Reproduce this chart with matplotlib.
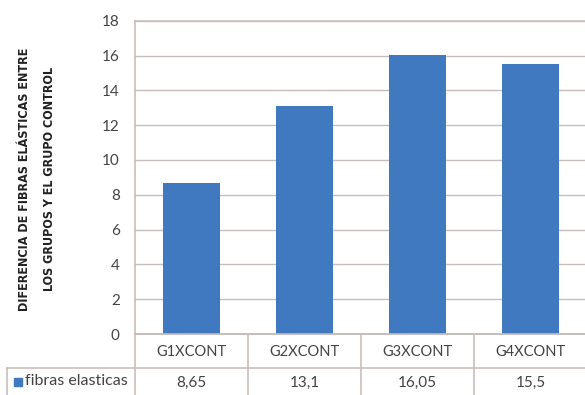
import matplotlib.pyplot as plt
from matplotlib.patches import Rectangle
from matplotlib import font_manager

# datos
categorias = ['G1XCONT', 'G2XCONT', 'G3XCONT', 'G4XCONT']
fibras_elasticas = [8.65, 13.1, 16.05, 15.5]
etiquetas_valor = ['8,65', '13,1', '16,05', '15,5']
serie = 'fibras elasticas'
titulo_y = ['DIFERENCIA DE FIBRAS ELÁSTICAS ENTRE', 'LOS GRUPOS Y EL GRUPO CONTROL']

azul = '#4179c0'
linea = '#c9bdbb'
texto = '#444444'
fuente = ['Lato', 'DejaVu Sans']

W, H = 585, 395
fig = plt.figure(figsize=(W / 100, H / 100), dpi=100)
fig.patch.set_facecolor('white')

# area del grafico en pixeles
x0, x1 = 135, 587
y0, y1 = 334, 20.7
ax = fig.add_axes([x0 / W, (H - y0) / H, (x1 - x0) / W, (y0 - y1) / H])

x = range(len(categorias))
ax.bar(x, fibras_elasticas, width=0.5, color=azul, zorder=3)
ax.set_xlim(-0.5, len(categorias) - 0.5)
ax.set_ylim(0, 18)
ax.set_yticks(range(0, 19, 2))
ax.set_yticklabels([str(v) for v in range(0, 19, 2)], fontsize=11,
                   color=texto, family=fuente)
ax.set_xticks([])
ax.yaxis.grid(True, color=linea, linewidth=1, zorder=0)
ax.tick_params(axis='y', length=0, pad=11)
for lado in ['left', 'top', 'bottom']:
    ax.spines[lado].set_color(linea)
    ax.spines[lado].set_linewidth(1.2)
ax.spines['right'].set_visible(False)

# tabla de datos debajo del eje
def px(xp, yp):
    return xp / W, (H - yp) / H

fila1, fila2, fondo = 334, 368, 396
paso = (x1 - x0) / len(categorias)
lc = dict(color=linea, linewidth=1.2, transform=fig.transFigure)

fig.add_artist(plt.Line2D(*zip(px(x0, fila1), px(W, fila1)), **lc))
fig.add_artist(plt.Line2D(*zip(px(7, fila2), px(W, fila2)), **lc))
fig.add_artist(plt.Line2D(*zip(px(7, fila2), px(7, fondo)), **lc))
fig.add_artist(plt.Line2D(*zip(px(x0, fila1), px(x0, fondo)), **lc))
for i in range(1, len(categorias)):
    xl = x0 + i * paso
    fig.add_artist(plt.Line2D(*zip(px(xl, fila1), px(xl, fondo)), **lc))

for i, (cat, val) in enumerate(zip(categorias, etiquetas_valor)):
    xc = x0 + (i + 0.5) * paso
    fig.text(*px(xc, (fila1 + fila2) / 2 + 1), cat, ha='center', va='center',
             fontsize=10.5, color=texto, family=fuente)
    fig.text(*px(xc, (fila2 + fondo) / 2 + 1), val, ha='center', va='center',
             fontsize=11, color=texto, family=fuente)

fig.add_artist(Rectangle(px(14, 386), 8 / W, 8 / H, color=azul,
                         transform=fig.transFigure))
fig.text(*px(25, 381), serie, ha='left', va='center', fontsize=11.5,
         color=texto, family=fuente)

# titulo del eje y en dos lineas, en letra estrecha
fp = font_manager.FontProperties(family='DejaVu Sans', stretch='condensed',
                                 weight='bold', size=9)
fig.text(*px(25, 179), titulo_y[0], rotation=90, ha='center', va='center',
         fontproperties=fp, color='#222222')
fig.text(*px(50, 179), titulo_y[1], rotation=90, ha='center', va='center',
         fontproperties=fp, color='#222222')

fig.savefig('out.png', dpi=100, facecolor='white')
